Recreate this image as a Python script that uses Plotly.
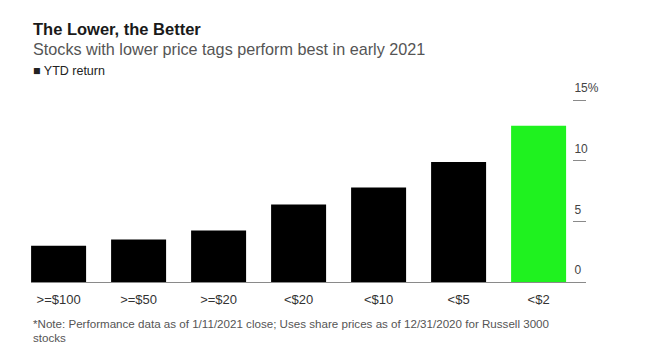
import plotly.graph_objects as go

categories = [">=$100", ">=$50", ">=$20", "<$20", "<$10", "<$5", "<$2"]
ytd_return = [3.0, 3.5, 4.25, 6.4, 7.8, 9.9, 12.9]
bar_colors = ["#000000"] * 6 + ["#1ff21f"]
y_tickvals = [0, 5, 10, 15]
y_ticktext = ["0", "5", "10", "15%"]

FONT = "Liberation Sans, Arial, sans-serif"

fig = go.Figure(
    go.Bar(
        x=categories,
        y=ytd_return,
        marker=dict(color=bar_colors, line=dict(width=0)),
        showlegend=False,
        hoverinfo="x+y",
    )
)

H_PLOT = 186
BASE = 282


def py(ypix):
    return (BASE - ypix) / H_PLOT


fig.update_layout(
    width=650,
    height=364,
    margin=dict(l=31, r=65, t=96, b=82, pad=0, autoexpand=False),
    paper_bgcolor="white",
    plot_bgcolor="white",
    bargap=0.3125,
    font=dict(family=FONT, color="#333333"),
    xaxis=dict(
        type="category",
        range=[-0.345, 6.58],
        showline=True,
        linecolor="#8a8a8a",
        linewidth=1,
        ticks="",
        showgrid=False,
        zeroline=False,
        tickfont=dict(size=13, color="#333333"),
        ticklabelstandoff=5,
    ),
    yaxis=dict(
        range=[0, 15.35],
        anchor="free",
        position=0.9765,
        side="right",
        showline=False,
        showgrid=False,
        zeroline=False,
        ticks="outside",
        ticklen=13,
        tickwidth=1,
        tickcolor="#8a8a8a",
        tickvals=y_tickvals,
        ticktext=y_ticktext,
        tickfont=dict(size=12, color="#444444"),
        ticklabelstandoff=-14,
        ticklabelshift=-12,
    ),
    annotations=[
        dict(text="<b>The Lower, the Better</b>", xref="paper", yref="paper",
             x=0.0, y=py(29), xanchor="left", yanchor="middle", showarrow=False,
             font=dict(size=16.5, color="#1a1a1a", family=FONT)),
        dict(text="Stocks with lower price tags perform best in early 2021", xref="paper",
             yref="paper", x=0.0, y=py(49), xanchor="left", yanchor="middle",
             showarrow=False, font=dict(size=16.2, color="#555555", family=FONT)),
        dict(text="■ YTD return", xref="paper", yref="paper", x=0.0, y=py(71),
             xanchor="left", yanchor="middle", showarrow=False,
             font=dict(size=12.5, color="#222222", family=FONT)),
        dict(text="*Note: Performance data as of 1/11/2021 close; Uses share prices as of 12/31/2020 for Russell 3000",
             xref="paper", yref="paper", x=0.0, y=py(323), xanchor="left", yanchor="middle",
             align="left", showarrow=False, font=dict(size=11.6, color="#555555", family=FONT)),
        dict(text="stocks",
             xref="paper", yref="paper", x=0.0, y=py(337), xanchor="left", yanchor="middle",
             align="left", showarrow=False, font=dict(size=11.6, color="#555555", family=FONT)),
    ],
)

fig.write_html("out.html", config={"displayModeBar": False},
               post_script="document.body.style.margin='0';")
